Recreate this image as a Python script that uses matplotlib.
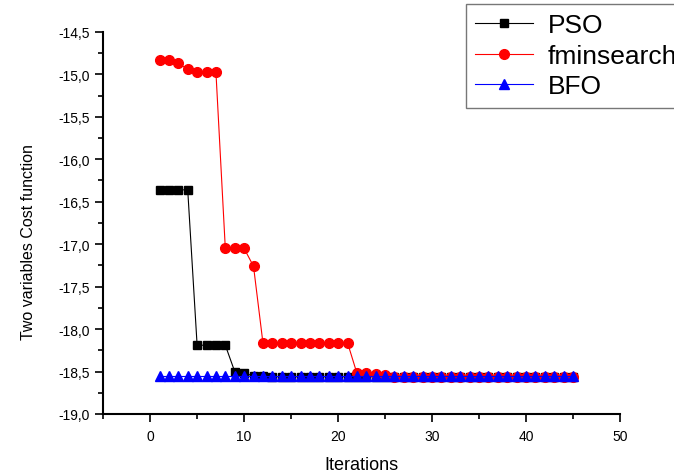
import numpy as np
import matplotlib
matplotlib.use('Agg')
import matplotlib.pyplot as plt
from matplotlib.ticker import MultipleLocator, FuncFormatter

plt.rcParams['font.family'] = ['Liberation Sans', 'DejaVu Sans']

# ─── Data ──────────────────────────────────────────────────────────────
iterations = np.arange(1, 46)

pso = [-16.36, -16.36, -16.36, -16.36, -18.19, -18.19, -18.19, -18.19,
       -18.50, -18.52, -18.55, -18.55, -18.56, -18.56, -18.56, -18.56,
       -18.56, -18.56, -18.56, -18.56, -18.56, -18.56, -18.56, -18.56,
       -18.56, -18.56, -18.56, -18.56, -18.56, -18.56, -18.56, -18.56,
       -18.56, -18.56, -18.56, -18.56, -18.56, -18.56, -18.56, -18.56,
       -18.56, -18.56, -18.56, -18.56, -18.56]

fminsearch = [-14.83, -14.83, -14.87, -14.94, -14.97, -14.97, -14.97,
              -17.05, -17.05, -17.05, -17.26, -18.16, -18.16, -18.16,
              -18.16, -18.16, -18.16, -18.16, -18.16, -18.16, -18.16,
              -18.52, -18.52, -18.53, -18.54, -18.57, -18.57, -18.57,
              -18.57, -18.57, -18.57, -18.57, -18.57, -18.57, -18.57,
              -18.57, -18.57, -18.57, -18.57, -18.57, -18.57, -18.57,
              -18.57, -18.57, -18.57]

bfo = [-18.55, -18.55, -18.55, -18.55, -18.55, -18.55, -18.55, -18.55,
       -18.55, -18.55, -18.55, -18.55, -18.55, -18.55, -18.55, -18.55,
       -18.55, -18.55, -18.55, -18.55, -18.55, -18.55, -18.55, -18.55,
       -18.55, -18.55, -18.55, -18.55, -18.55, -18.55, -18.55, -18.55,
       -18.55, -18.55, -18.55, -18.55, -18.55, -18.55, -18.55, -18.55,
       -18.55, -18.55, -18.55, -18.55, -18.55]

# ─── Figure ────────────────────────────────────────────────────────────
fig = plt.figure(figsize=(6.74, 4.77), dpi=100)
ax = fig.add_axes([0.153, 0.130, 0.767, 0.801])

ax.plot(iterations, pso, color='black', linewidth=0.8, marker='s',
        markersize=6, label='PSO')
ax.plot(iterations, fminsearch, color='#ff0000', linewidth=0.8, marker='o',
        markersize=7, label='fminsearch')
ax.plot(iterations, bfo, color='#0000ff', linewidth=0.8, marker='^',
        markersize=7, label='BFO')

ax.set_xlim(-5, 50)
ax.set_ylim(-19.0, -14.5)
ax.xaxis.set_major_locator(MultipleLocator(10))
ax.xaxis.set_minor_locator(MultipleLocator(5))
ax.yaxis.set_major_locator(MultipleLocator(0.5))
ax.yaxis.set_minor_locator(MultipleLocator(0.25))
ax.yaxis.set_major_formatter(FuncFormatter(lambda v, p: f'{v:.1f}'.replace('.', ',')))

for side in ('top', 'right'):
    ax.spines[side].set_visible(False)
for side in ('left', 'bottom'):
    ax.spines[side].set_linewidth(1.5)

ax.tick_params(which='major', direction='out', length=6, width=1.2,
               labelsize=10)
ax.tick_params(axis='x', which='major', pad=5)
ax.tick_params(which='minor', direction='out', length=3.5, width=1.2)

ax.set_xlabel('Iterations', fontsize=13, labelpad=9)
ax.set_ylabel('Two variables Cost function', fontsize=11.5, labelpad=16)
ax.yaxis.set_label_coords(-0.13, 0.453)

fig.legend(loc='upper left', bbox_to_anchor=(466 / 674, 1 - 5 / 477),
           fontsize=19, frameon=True, fancybox=False, edgecolor='#555555',
           handlelength=2.2, handletextpad=0.55, labelspacing=0.25,
           borderpad=0.35, borderaxespad=0)

fig.savefig('out.png', dpi=100)
